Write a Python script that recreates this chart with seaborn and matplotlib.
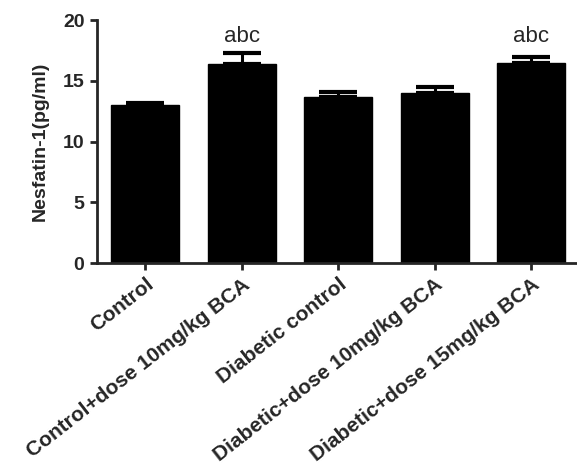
import numpy as np
import matplotlib
matplotlib.use("Agg")
import matplotlib.pyplot as plt
import matplotlib.transforms as mtransforms
import seaborn as sns

# Group data
groups = [
    "Control",
    "Control+dose 10mg/kg BCA",
    "Diabetic control",
    "Diabetic+dose 10mg/kg BCA",
    "Diabetic+dose 15mg/kg BCA",
]
means = [13.0, 16.35, 13.7, 13.97, 16.43]
sem = [0.2, 0.9, 0.35, 0.55, 0.55]
letters = ["", "abc", "", "", "abc"]

sns.set_style("ticks")
plt.rcParams["font.family"] = ["Liberation Sans", "DejaVu Sans"]

fig = plt.figure(figsize=(5.77, 4.69), dpi=100)
ax = fig.add_axes([97 / 577, 1 - 263 / 469, 482.5 / 577, 243 / 469])

sns.barplot(x=groups, y=means, color="black", width=0.70, ax=ax,
            saturation=1, edgecolor="black")
pos = np.arange(len(groups))
ax.errorbar(pos, means, yerr=[np.zeros(len(sem)), sem], fmt="none",
            ecolor="black", elinewidth=2.2, capsize=13.5, capthick=3)

for x, t in zip(pos, letters):
    if t:
        ax.text(x, 18.2, t, ha="center", va="baseline", fontsize=16)

ax.set_ylim(0, 20)
ax.set_xlim(-0.5, 4.5)
ax.set_yticks([0, 5, 10, 15, 20])
ax.set_ylabel("Nesfatin-1(pg/ml)", fontsize=14, fontweight="bold", labelpad=10)
ax.set_xticks(pos)
ax.set_xticklabels(groups, rotation=38, ha="right", rotation_mode="anchor",
                   fontsize=15, fontweight="bold")
shift = mtransforms.ScaledTranslation(3 / 72, -4 / 72, fig.dpi_scale_trans)
for lbl in ax.get_xticklabels():
    lbl.set_transform(lbl.get_transform() + shift)
for lbl in ax.get_yticklabels():
    lbl.set_fontweight("bold")
    lbl.set_fontsize(14)
ax.tick_params(axis="both", width=2, length=5, direction="out")
ax.tick_params(axis="y", pad=4)
for side in ["left", "bottom"]:
    ax.spines[side].set_linewidth(2)
sns.despine(ax=ax)

fig.savefig("out.png", dpi=100)
